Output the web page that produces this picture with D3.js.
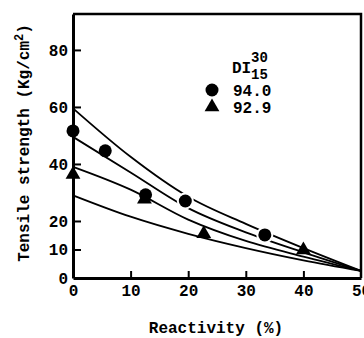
<!DOCTYPE html>
<html>
<head>
<meta charset="utf-8">
<script src="https://cdn.jsdelivr.net/npm/d3@7"></script>
<style>
  body { margin: 0; background: white; }
  svg { display: block; }
  text { font-family: "Liberation Mono", "DejaVu Sans Mono", monospace; font-weight: bold; fill: black; }
</style>
</head>
<body>
<svg id="chart" width="364" height="338"></svg>
<script>
// tick values
var xTicks = [0, 10, 20, 30, 40, 50];
var yTicks = [0, 10, 20, 40, 60, 80];

// measured points (reactivity %, tensile strength)
var di940 = [[0, 51.6], [5.6, 44.6], [12.6, 29.2], [19.5, 27], [33.3, 15.1]];
var di929 = [[0, 36.3], [12.4, 27.6], [22.7, 15.5], [40, 9.8]];

// fitted curves, read at x = 0,10,...,50
var curveA = [[0, 59.5], [10, 42.5], [20, 28.5], [30, 19], [40, 10.5], [50, 2.5]];
var curveB = [[0, 49.5], [10, 37], [20, 24.5], [30, 16], [40, 9], [50, 2.5]];
var curveC = [[0, 39], [10, 31], [20, 20.5], [30, 13], [40, 7.5], [50, 2.5]];
var curveD = [[0, 29], [10, 21.5], [20, 15.5], [30, 10.5], [40, 6.2], [50, 2.5]];

var legendLabels = ["94.0", "92.9"];

var width = 364, height = 338;
var margin = { top: 14, right: 3, bottom: 60, left: 73 };

var svg = d3.select("#chart");

var x = d3.scaleLinear().domain([0, 50]).range([margin.left, width - margin.right]);
var y = d3.scaleLinear().domain([0, 92.6]).range([height - margin.bottom, margin.top]);

// frame (top and right edges)
svg.append("path")
    .attr("d", `M${x(0)},${y(92.6)}H${x(50)}V${y(0)}`)
    .attr("fill", "none")
    .attr("stroke", "black")
    .attr("stroke-width", 2.5);

// axes
var xAxis = svg.append("g")
    .attr("transform", `translate(0,${y(0)})`)
    .call(d3.axisBottom(x).tickValues(xTicks).tickSizeInner(-7).tickSizeOuter(0).tickPadding(7));

var yAxis = svg.append("g")
    .attr("transform", `translate(${x(0)},0)`)
    .call(d3.axisLeft(y).tickValues(yTicks).tickSizeInner(-8).tickSizeOuter(0).tickPadding(5));

[xAxis, yAxis].forEach(g => {
    g.select(".domain").attr("stroke-width", 3);
    g.selectAll(".tick line").attr("stroke-width", 2);
    g.selectAll(".tick text")
        .style("font-family", "'Liberation Mono', monospace")
        .style("font-weight", "bold")
        .style("font-size", "16px");
});
xAxis.selectAll(".tick").filter(d => d === 0 || d === 50).select("line").remove();
yAxis.selectAll(".tick").filter(d => d === 0).select("line").remove();

// curves
var line = d3.line()
    .x(d => x(d[0]))
    .y(d => y(d[1]))
    .curve(d3.curveMonotoneX);

svg.append("g")
    .selectAll("path")
    .data([curveA, curveB, curveC, curveD])
    .join("path")
    .attr("d", line)
    .attr("fill", "none")
    .attr("stroke", "black")
    .attr("stroke-width", 1.8);

// markers (white halo breaks the curve where the marker sits on it)
svg.append("g")
    .selectAll("circle")
    .data(di940)
    .join("circle")
    .attr("cx", d => x(d[0]))
    .attr("cy", d => y(d[1]))
    .attr("r", 6.5)
    .attr("fill", "black")
    .attr("stroke", d => d[0] > 15 ? "white" : "none")
    .attr("stroke-width", 4)
    .attr("paint-order", "stroke");

var tri = d3.symbol().type(d3.symbolTriangle).size(95);

svg.append("g")
    .selectAll("path")
    .data(di929)
    .join("path")
    .attr("transform", d => `translate(${x(d[0])},${y(d[1])})`)
    .attr("d", tri)
    .attr("fill", "black");

// legend
var legend = svg.append("g").style("font-size", "16px");
legend.append("text").attr("x", 232).attr("y", 73).text("DI");
legend.append("text").attr("x", 251).attr("y", 62).style("font-size", "14px").text("30");
legend.append("text").attr("x", 251).attr("y", 79).style("font-size", "14px").text("15");

legend.append("circle").attr("cx", 212).attr("cy", 90).attr("r", 6.5).attr("fill", "black");
legend.append("text").attr("x", 233).attr("y", 96).text(legendLabels[0]);
legend.append("path").attr("transform", "translate(212,107)").attr("d", tri).attr("fill", "black");
legend.append("text").attr("x", 233).attr("y", 113).text(legendLabels[1]);

// axis titles
svg.append("text")
    .attr("x", 216)
    .attr("y", 333)
    .attr("text-anchor", "middle")
    .style("font-size", "16px")
    .text("Reactivity (%)");

var yTitle = svg.append("text")
    .attr("transform", "translate(29,143) rotate(-90)")
    .attr("text-anchor", "middle")
    .style("font-size", "16px");
yTitle.append("tspan").text("Tensile strength (Kg/cm");
yTitle.append("tspan").attr("dy", -6).style("font-size", "12px").text("2");
yTitle.append("tspan").attr("dy", 6).text(")");
</script>
</body>
</html>
